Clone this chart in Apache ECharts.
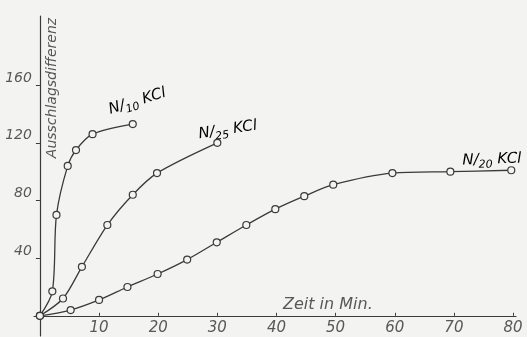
<!DOCTYPE html>
<html><head><meta charset="utf-8">
<script src="https://cdn.jsdelivr.net/npm/echarts@6/dist/echarts.min.js"></script>
<style>html,body{margin:0;padding:0;background:#f3f3f1;}#c{width:527px;height:337px;}</style>
</head><body><div id="c"></div>
<script>
// Data
const xTickLabels = [10, 20, 30, 40, 50, 60, 70, 80];
const yTickLabels = [40, 80, 120, 160];
const n10Time = [0, 2.1, 2.8, 4.7, 6.1, 8.9, 15.7];
const n10Value = [0, 17, 70, 104, 115, 126, 133];
const n25Time = [0, 3.9, 7.1, 11.4, 15.7, 19.8, 30];
const n25Value = [0, 12, 34, 63, 84, 99, 120];
const n20Time = [0, 5.2, 10, 14.8, 19.9, 24.9, 29.9, 34.9, 39.8, 44.7, 49.6, 59.6, 69.4, 79.7];
const n20Value = [0, 4, 11, 20, 29, 39, 51, 63, 74, 83, 91, 99, 100, 101];

const zip = (a, b) => a.map((v, i) => [v, b[i]]);
const ink = '#3a3a3a';
const txt = '#585858';
const font = 'DejaVu Sans';

const X_MIN = -1, X_MAX = 80.5, Y_MIN = -14, Y_MAX = 208;
const GRID = { left: 34, right: 11, top: 16, bottom: 1 };
const W = 527, H = 337;
const xScale = (W - GRID.left - GRID.right) / (X_MAX - X_MIN);
const yScale = (H - GRID.top - GRID.bottom) / (Y_MAX - Y_MIN);

function lineSeries(name, t, v, sm) {
  return {
    name, type: 'line', data: zip(t, v), smooth: sm,
    symbol: 'circle', symbolSize: 7,
    lineStyle: { color: ink, width: 1.3 },
    itemStyle: { color: '#f3f3f1', borderColor: ink, borderWidth: 1.2 },
    z: 3
  };
}
const rich = {
  n: { fontFamily: font, fontStyle: 'italic', fontSize: 15, color: txt },
  s: { fontFamily: font, fontStyle: 'italic', fontSize: 11, color: txt, padding: [10, 0, 0, 0] }
};

const chart = echarts.init(document.getElementById('c'), null, { renderer: 'canvas' });
chart.setOption({
  backgroundColor: '#f3f3f1',
  animation: false,
  grid: Object.assign({ containLabel: false, outerBoundsMode: 'none' }, GRID),
  xAxis: {
    type: 'value', min: X_MIN, max: X_MAX,
    offset: -(0 - Y_MIN) * yScale,
    axisLine: { onZero: false, lineStyle: { color: ink, width: 1.2 } },
    axisTick: { show: true, customValues: xTickLabels, length: 3, inside: true, lineStyle: { color: ink } },
    axisLabel: { customValues: xTickLabels, margin: 5, fontFamily: font, fontStyle: 'italic', fontSize: 15, color: txt },
    splitLine: { show: false }
  },
  yAxis: {
    type: 'value', min: Y_MIN, max: Y_MAX,
    offset: -(0 - X_MIN) * xScale,
    axisLine: { onZero: false, lineStyle: { color: ink, width: 1.2 } },
    axisTick: { show: true, customValues: yTickLabels, length: 4, lineStyle: { color: ink } },
    axisLabel: { customValues: yTickLabels, margin: 8, verticalAlign: 'bottom', fontFamily: font, fontStyle: 'italic', fontSize: 14, color: txt },
    splitLine: { show: false }
  },
  series: [
    lineSeries('N/10 KCl', n10Time, n10Value, 0.3),
    lineSeries('N/25 KCl', n25Time, n25Value, 0.3),
    lineSeries('N/20 KCl', n20Time, n20Value, 0.3)
  ],
  graphic: [
    { type: 'text', x: 52, y: 88, rotation: Math.PI / 2, style: { text: 'Ausschlagsdifferenz', fontFamily: font, fontStyle: 'italic', fontSize: 14, fill: txt, align: 'center', verticalAlign: 'middle' } },
    { type: 'text', x: 283, y: 297, style: { text: 'Zeit in Min.', fontFamily: font, fontStyle: 'italic', fontSize: 16, fill: txt } },
    { type: 'text', x: 106, y: 100, rotation: 0.3, style: { text: '{n|N/}{s|10}{n| KCl}', rich } },
    { type: 'text', x: 197, y: 124, rotation: 0.15, style: { text: '{n|N/}{s|25}{n| KCl}', rich } },
    { type: 'text', x: 462, y: 150, rotation: 0.03, style: { text: '{n|N/}{s|20}{n| KCl}', rich } }
  ]
});
</script></body></html>
